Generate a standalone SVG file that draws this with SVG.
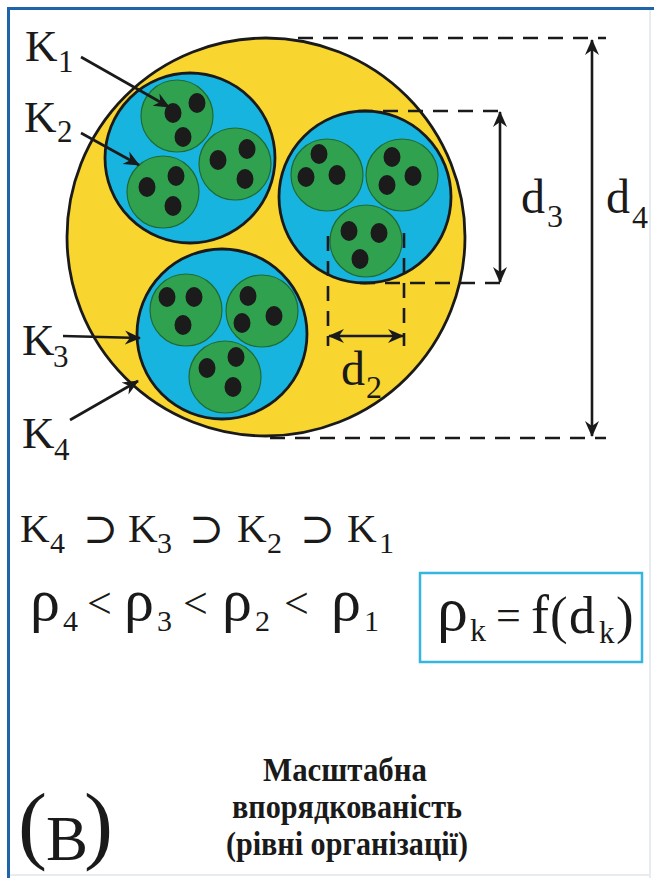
<svg xmlns="http://www.w3.org/2000/svg" width="654" height="878" viewBox="0 0 654 878">
<style>
.frame{stroke:#1f63a8;stroke-width:3;fill:none}
.faint{stroke:#e6ecef;stroke-width:2;fill:none}
.yel{fill:#f8d52f;stroke:#1a1a1a;stroke-width:2.8}
.blu{fill:#18b4e0;stroke:#1a1a1a;stroke-width:2.8}
.grn{fill:#30a24f;stroke:#1e6b33;stroke-width:1.2}
.dot{fill:#1b1b1b}
.dash{stroke:#1a1a1a;stroke-width:2.6;stroke-dasharray:15 10;fill:none}
.arr{stroke:#1a1a1a;stroke-width:2.6;fill:none;marker-end:url(#ah)}
.darr{stroke:#1a1a1a;stroke-width:2.6;fill:none;marker-start:url(#ah);marker-end:url(#ah)}
.t{font-family:"Liberation Serif","DejaVu Serif",serif;fill:#1a1a1a}
.sym{font-family:"DejaVu Serif","Liberation Serif",serif;fill:#1a1a1a}
.cap{font-family:"Liberation Serif","DejaVu Serif",serif;font-weight:bold;fill:#1a1a1a;text-anchor:middle}
.box{fill:none;stroke:#35b6df;stroke-width:2.5}
</style>
<defs>
<marker id="ah" viewBox="0 0 16 16" refX="15" refY="8" markerWidth="16" markerHeight="16" markerUnits="userSpaceOnUse" orient="auto-start-reverse">
<path d="M0,1 L16,8 L0,15 L5,8 Z" fill="#1a1a1a"/>
</marker>
</defs>
<rect width="654" height="878" fill="#ffffff"/>
<g id="frame">
<line class="faint" x1="650" y1="10" x2="650" y2="878"/>
<line class="faint" x1="10" y1="875" x2="650" y2="875"/>
<line class="frame" x1="8.5" y1="7" x2="8.5" y2="878"/>
<line class="frame" x1="7" y1="8.5" x2="654" y2="8.5"/>
</g>
<g id="k4">
<circle class="yel" cx="266" cy="237" r="199"/>
</g>
<g id="k3-top-left">
<circle class="blu" cx="190" cy="158" r="85"/>
<g id="k2-tl-1"><circle class="grn" cx="177" cy="116" r="36"/><ellipse class="dot" cx="173" cy="113" rx="8.5" ry="10"/><ellipse class="dot" cx="197" cy="103" rx="8.5" ry="10"/><ellipse class="dot" cx="183" cy="137" rx="8.5" ry="10"/></g>
<g id="k2-tl-2"><circle class="grn" cx="163" cy="192" r="36"/><ellipse class="dot" cx="147" cy="187" rx="8.5" ry="10"/><ellipse class="dot" cx="176" cy="176" rx="8.5" ry="10"/><ellipse class="dot" cx="173" cy="206" rx="8.5" ry="10"/></g>
<g id="k2-tl-3"><circle class="grn" cx="235" cy="164" r="36"/><ellipse class="dot" cx="218" cy="160" rx="8.5" ry="10"/><ellipse class="dot" cx="247" cy="149" rx="8.5" ry="10"/><ellipse class="dot" cx="245" cy="179" rx="8.5" ry="10"/></g>
</g>
<g id="k3-right">
<circle class="blu" cx="365" cy="197" r="86"/>
<g id="k2-r-1"><circle class="grn" cx="327" cy="175" r="36"/><ellipse class="dot" cx="319" cy="154" rx="8.5" ry="10"/><ellipse class="dot" cx="306" cy="177" rx="8.5" ry="10"/><ellipse class="dot" cx="337" cy="175" rx="8.5" ry="10"/></g>
<g id="k2-r-2"><circle class="grn" cx="402" cy="175" r="36"/><ellipse class="dot" cx="392" cy="157" rx="8.5" ry="10"/><ellipse class="dot" cx="413" cy="176" rx="8.5" ry="10"/><ellipse class="dot" cx="387" cy="185" rx="8.5" ry="10"/></g>
<g id="k2-r-3"><circle class="grn" cx="366" cy="241" r="36"/><ellipse class="dot" cx="349" cy="231" rx="8.5" ry="10"/><ellipse class="dot" cx="379" cy="233" rx="8.5" ry="10"/><ellipse class="dot" cx="360" cy="259" rx="8.5" ry="10"/></g>
</g>
<g id="k3-bottom">
<circle class="blu" cx="222" cy="334" r="85"/>
<g id="k2-b-1"><circle class="grn" cx="186" cy="310" r="36"/><ellipse class="dot" cx="167" cy="297" rx="8.5" ry="10"/><ellipse class="dot" cx="194" cy="297" rx="8.5" ry="10"/><ellipse class="dot" cx="183" cy="325" rx="8.5" ry="10"/></g>
<g id="k2-b-2"><circle class="grn" cx="262" cy="311" r="36"/><ellipse class="dot" cx="248" cy="296" rx="8.5" ry="10"/><ellipse class="dot" cx="274" cy="316" rx="8.5" ry="10"/><ellipse class="dot" cx="242" cy="323" rx="8.5" ry="10"/></g>
<g id="k2-b-3"><circle class="grn" cx="225" cy="377" r="36"/><ellipse class="dot" cx="207" cy="368" rx="8.5" ry="10"/><ellipse class="dot" cx="236" cy="357" rx="8.5" ry="10"/><ellipse class="dot" cx="233" cy="387" rx="8.5" ry="10"/></g>
</g>
<g id="connectors">
<line class="dash" x1="298" y1="38" x2="606" y2="38"/>
<line class="dash" x1="270" y1="438" x2="606" y2="438"/>
<line class="dash" x1="358" y1="111" x2="508" y2="111"/>
<line class="dash" x1="360" y1="283" x2="510" y2="283"/>
<line class="dash" x1="328" y1="236" x2="328" y2="346"/>
<line class="dash" x1="404" y1="233" x2="404" y2="346"/>
<line class="darr" x1="592" y1="40" x2="592" y2="436"/>
<line class="darr" x1="500" y1="112" x2="500" y2="282"/>
<line class="darr" x1="329" y1="336" x2="403" y2="336"/>
<line class="arr" x1="81" y1="57" x2="169" y2="107"/>
<line class="arr" x1="81" y1="133" x2="139" y2="165"/>
<line class="arr" x1="63" y1="336" x2="140" y2="338"/>
<line class="arr" x1="70" y1="420" x2="138" y2="381"/>
</g>
<g id="labels">
<text class="t" x="25" y="61" font-size="45">K</text><text class="t" x="58" y="72" font-size="31">1</text>
<text class="t" x="24" y="132" font-size="45">K</text><text class="t" x="57" y="142" font-size="31">2</text>
<text class="t" x="22" y="355" font-size="45">K</text><text class="t" x="53" y="367" font-size="31">3</text>
<text class="t" x="22" y="448" font-size="45">K</text><text class="t" x="54" y="460" font-size="31">4</text>
<text class="t" x="521" y="213" font-size="48">d</text><text class="t" x="547" y="227" font-size="32">3</text>
<text class="t" x="606" y="213" font-size="48">d</text><text class="t" x="632" y="228" font-size="32">4</text>
<text class="t" x="341" y="385" font-size="48">d</text><text class="t" x="366" y="398" font-size="32">2</text>
</g>
<g id="formula-k">
<text class="t" x="20" y="542" font-size="41">K</text><text class="t" x="50" y="553" font-size="30">4</text>
<text class="sym" x="83" y="543" font-size="42">⊃</text>
<text class="t" x="128" y="542" font-size="41">K</text><text class="t" x="157" y="553" font-size="30">3</text>
<text class="sym" x="189" y="543" font-size="42">⊃</text>
<text class="t" x="237" y="542" font-size="41">K</text><text class="t" x="267" y="553" font-size="30">2</text>
<text class="sym" x="300" y="543" font-size="42">⊃</text>
<text class="t" x="347" y="542" font-size="41">K</text><text class="t" x="379" y="553" font-size="30">1</text>
</g>
<g id="formula-rho">
<text class="t" x="30" y="620" font-size="60">ρ</text><text class="t" x="63" y="631" font-size="30">4</text>
<text class="t" x="87" y="618" font-size="44">&lt;</text>
<text class="t" x="124" y="620" font-size="60">ρ</text><text class="t" x="157" y="631" font-size="30">3</text>
<text class="t" x="183" y="618" font-size="44">&lt;</text>
<text class="t" x="222" y="620" font-size="60">ρ</text><text class="t" x="255" y="631" font-size="30">2</text>
<text class="t" x="284" y="618" font-size="44">&lt;</text>
<text class="t" x="331" y="620" font-size="60">ρ</text><text class="t" x="364" y="631" font-size="30">1</text>
</g>
<g id="formula-box">
<rect class="box" x="420" y="573" width="222" height="89"/>
<text class="t" x="437" y="630" font-size="62">ρ</text><text class="t" x="470" y="641" font-size="32">k</text>
<text class="t" x="496" y="630" font-size="44">=</text>
<text class="t" x="531" y="633" font-size="54">f</text>
<text class="t" x="550" y="633" font-size="53">(</text>
<text class="t" x="569" y="633" font-size="52">d</text><text class="t" x="599" y="643" font-size="31">k</text>
<text class="t" x="616" y="633" font-size="53">)</text>
</g>
<g id="panel-label">
<text class="t" x="18" y="853" font-size="87">(</text>
<text class="t" x="46" y="860" font-size="63">В</text>
<text class="t" x="84" y="853" font-size="87">)</text>
</g>
<g id="caption">
<text class="cap" x="345" y="781" font-size="33" textLength="164" lengthAdjust="spacingAndGlyphs">Масштабна</text>
<text class="cap" x="347" y="818" font-size="33" textLength="230" lengthAdjust="spacingAndGlyphs">впорядкованість</text>
<text class="cap" x="347" y="855" font-size="33" textLength="242" lengthAdjust="spacingAndGlyphs">(рівні організації)</text>
</g>
</svg>
